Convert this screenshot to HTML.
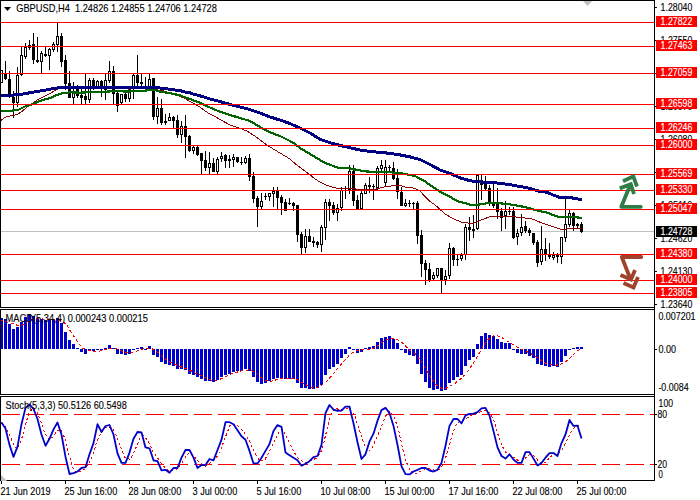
<!DOCTYPE html><html><head><meta charset="utf-8"><title>GBPUSD,H4</title>
<style>html,body{margin:0;padding:0;background:#fff;overflow:hidden}svg{display:block}text{font-family:"Liberation Sans",sans-serif;font-size:10.1px;fill:#000;stroke:#000;stroke-width:0.12px}</style></head><body>
<svg width="700" height="500" viewBox="0 0 700 500">
<rect width="700" height="500" fill="#fff"/>
<g shape-rendering="crispEdges">
<rect x="1" y="231" width="653" height="1" fill="#c0c0c0"/>
<g fill="#000">
<rect x="1" y="70" width="1" height="13"/>
<rect x="0" y="70" width="3" height="13"/>
<rect x="1" y="71" width="1" height="11" fill="#fff"/>
<rect x="5" y="61" width="1" height="19"/>
<rect x="4" y="73" width="3" height="6"/>
<rect x="9" y="71" width="1" height="27"/>
<rect x="8" y="79" width="3" height="16"/>
<rect x="13" y="91" width="1" height="27"/>
<rect x="12" y="97" width="3" height="6"/>
<rect x="17" y="67" width="1" height="40"/>
<rect x="16" y="75" width="3" height="28"/>
<rect x="17" y="76" width="1" height="26" fill="#fff"/>
<rect x="21" y="47" width="1" height="29"/>
<rect x="20" y="55" width="3" height="20"/>
<rect x="21" y="56" width="1" height="18" fill="#fff"/>
<rect x="25" y="43" width="1" height="16"/>
<rect x="24" y="47" width="3" height="10"/>
<rect x="25" y="48" width="1" height="8" fill="#fff"/>
<rect x="29" y="40" width="1" height="10"/>
<rect x="28" y="45" width="3" height="3"/>
<rect x="29" y="46" width="1" height="1" fill="#fff"/>
<rect x="33" y="33" width="1" height="31"/>
<rect x="32" y="44" width="3" height="16"/>
<rect x="37" y="37" width="1" height="26"/>
<rect x="36" y="60" width="3" height="2"/>
<rect x="41" y="51" width="1" height="22"/>
<rect x="40" y="53" width="3" height="9"/>
<rect x="41" y="54" width="1" height="7" fill="#fff"/>
<rect x="45" y="47" width="1" height="10"/>
<rect x="44" y="54" width="3" height="2"/>
<rect x="49" y="48" width="1" height="22"/>
<rect x="48" y="49" width="3" height="7"/>
<rect x="49" y="50" width="1" height="5" fill="#fff"/>
<rect x="53" y="42" width="1" height="10"/>
<rect x="52" y="44" width="3" height="6"/>
<rect x="53" y="45" width="1" height="4" fill="#fff"/>
<rect x="57" y="23" width="1" height="29"/>
<rect x="56" y="36" width="3" height="9"/>
<rect x="57" y="37" width="1" height="7" fill="#fff"/>
<rect x="61" y="33" width="1" height="34"/>
<rect x="60" y="36" width="3" height="26"/>
<rect x="65" y="55" width="1" height="35"/>
<rect x="64" y="60" width="3" height="24"/>
<rect x="69" y="71" width="1" height="27"/>
<rect x="68" y="83" width="3" height="15"/>
<rect x="73" y="82" width="1" height="22"/>
<rect x="72" y="92" width="3" height="6"/>
<rect x="73" y="93" width="1" height="4" fill="#fff"/>
<rect x="77" y="85" width="1" height="13"/>
<rect x="76" y="89" width="3" height="7"/>
<rect x="81" y="89" width="1" height="15"/>
<rect x="80" y="95" width="3" height="3"/>
<rect x="85" y="74" width="1" height="30"/>
<rect x="84" y="96" width="3" height="4"/>
<rect x="89" y="78" width="1" height="25"/>
<rect x="88" y="80" width="3" height="20"/>
<rect x="89" y="81" width="1" height="18" fill="#fff"/>
<rect x="93" y="78" width="1" height="12"/>
<rect x="92" y="80" width="3" height="9"/>
<rect x="97" y="80" width="1" height="8"/>
<rect x="96" y="81" width="3" height="7"/>
<rect x="97" y="82" width="1" height="5" fill="#fff"/>
<rect x="101" y="80" width="1" height="17"/>
<rect x="100" y="81" width="3" height="8"/>
<rect x="105" y="74" width="1" height="26"/>
<rect x="104" y="80" width="3" height="10"/>
<rect x="105" y="81" width="1" height="8" fill="#fff"/>
<rect x="109" y="61" width="1" height="22"/>
<rect x="108" y="71" width="3" height="10"/>
<rect x="109" y="72" width="1" height="8" fill="#fff"/>
<rect x="113" y="66" width="1" height="38"/>
<rect x="112" y="71" width="3" height="23"/>
<rect x="117" y="92" width="1" height="20"/>
<rect x="116" y="93" width="3" height="13"/>
<rect x="121" y="94" width="1" height="11"/>
<rect x="120" y="94" width="3" height="9"/>
<rect x="121" y="95" width="1" height="7" fill="#fff"/>
<rect x="125" y="93" width="1" height="9"/>
<rect x="124" y="94" width="3" height="5"/>
<rect x="129" y="88" width="1" height="14"/>
<rect x="128" y="89" width="3" height="10"/>
<rect x="129" y="90" width="1" height="8" fill="#fff"/>
<rect x="133" y="74" width="1" height="25"/>
<rect x="132" y="75" width="3" height="14"/>
<rect x="133" y="76" width="1" height="12" fill="#fff"/>
<rect x="137" y="55" width="1" height="31"/>
<rect x="136" y="75" width="3" height="8"/>
<rect x="141" y="74" width="1" height="12"/>
<rect x="140" y="82" width="3" height="2"/>
<rect x="145" y="77" width="1" height="10"/>
<rect x="144" y="86" width="3" height="1"/>
<rect x="149" y="74" width="1" height="14"/>
<rect x="148" y="79" width="3" height="8"/>
<rect x="149" y="80" width="1" height="6" fill="#fff"/>
<rect x="153" y="78" width="1" height="42"/>
<rect x="152" y="78" width="3" height="39"/>
<rect x="157" y="97" width="1" height="27"/>
<rect x="156" y="108" width="3" height="9"/>
<rect x="157" y="109" width="1" height="7" fill="#fff"/>
<rect x="161" y="99" width="1" height="26"/>
<rect x="160" y="108" width="3" height="15"/>
<rect x="165" y="114" width="1" height="11"/>
<rect x="164" y="121" width="3" height="2"/>
<rect x="169" y="113" width="1" height="8"/>
<rect x="168" y="117" width="3" height="4"/>
<rect x="169" y="118" width="1" height="2" fill="#fff"/>
<rect x="173" y="116" width="1" height="12"/>
<rect x="172" y="117" width="3" height="4"/>
<rect x="177" y="115" width="1" height="23"/>
<rect x="176" y="120" width="3" height="15"/>
<rect x="181" y="121" width="1" height="22"/>
<rect x="180" y="126" width="3" height="9"/>
<rect x="181" y="127" width="1" height="7" fill="#fff"/>
<rect x="185" y="115" width="1" height="43"/>
<rect x="184" y="126" width="3" height="11"/>
<rect x="189" y="135" width="1" height="17"/>
<rect x="188" y="136" width="3" height="15"/>
<rect x="193" y="146" width="1" height="8"/>
<rect x="192" y="147" width="3" height="4"/>
<rect x="193" y="148" width="1" height="2" fill="#fff"/>
<rect x="197" y="146" width="1" height="10"/>
<rect x="196" y="147" width="3" height="8"/>
<rect x="201" y="153" width="1" height="22"/>
<rect x="200" y="153" width="3" height="8"/>
<rect x="205" y="151" width="1" height="20"/>
<rect x="204" y="160" width="3" height="8"/>
<rect x="209" y="152" width="1" height="22"/>
<rect x="208" y="163" width="3" height="5"/>
<rect x="209" y="164" width="1" height="3" fill="#fff"/>
<rect x="213" y="158" width="1" height="14"/>
<rect x="212" y="163" width="3" height="9"/>
<rect x="217" y="157" width="1" height="17"/>
<rect x="216" y="159" width="3" height="13"/>
<rect x="217" y="160" width="1" height="11" fill="#fff"/>
<rect x="221" y="152" width="1" height="10"/>
<rect x="220" y="156" width="3" height="3"/>
<rect x="221" y="157" width="1" height="1" fill="#fff"/>
<rect x="225" y="154" width="1" height="14"/>
<rect x="224" y="155" width="3" height="6"/>
<rect x="229" y="155" width="1" height="13"/>
<rect x="228" y="159" width="3" height="2"/>
<rect x="233" y="154" width="1" height="13"/>
<rect x="232" y="157" width="3" height="3"/>
<rect x="233" y="158" width="1" height="1" fill="#fff"/>
<rect x="237" y="157" width="1" height="6"/>
<rect x="236" y="157" width="3" height="5"/>
<rect x="241" y="157" width="1" height="8"/>
<rect x="240" y="162" width="3" height="1"/>
<rect x="245" y="156" width="1" height="8"/>
<rect x="244" y="158" width="3" height="5"/>
<rect x="245" y="159" width="1" height="3" fill="#fff"/>
<rect x="249" y="154" width="1" height="27"/>
<rect x="248" y="158" width="3" height="19"/>
<rect x="253" y="172" width="1" height="31"/>
<rect x="252" y="176" width="3" height="23"/>
<rect x="257" y="196" width="1" height="31"/>
<rect x="256" y="198" width="3" height="9"/>
<rect x="261" y="193" width="1" height="16"/>
<rect x="260" y="201" width="3" height="6"/>
<rect x="261" y="202" width="1" height="4" fill="#fff"/>
<rect x="265" y="193" width="1" height="7"/>
<rect x="264" y="196" width="3" height="1"/>
<rect x="269" y="193" width="1" height="8"/>
<rect x="268" y="193" width="3" height="4"/>
<rect x="269" y="194" width="1" height="2" fill="#fff"/>
<rect x="273" y="187" width="1" height="20"/>
<rect x="272" y="191" width="3" height="3"/>
<rect x="273" y="192" width="1" height="1" fill="#fff"/>
<rect x="277" y="187" width="1" height="22"/>
<rect x="276" y="190" width="3" height="8"/>
<rect x="281" y="195" width="1" height="20"/>
<rect x="280" y="197" width="3" height="6"/>
<rect x="285" y="199" width="1" height="12"/>
<rect x="284" y="202" width="3" height="9"/>
<rect x="289" y="198" width="1" height="7"/>
<rect x="288" y="203" width="3" height="1"/>
<rect x="293" y="202" width="1" height="9"/>
<rect x="292" y="203" width="3" height="3"/>
<rect x="297" y="205" width="1" height="37"/>
<rect x="296" y="205" width="3" height="30"/>
<rect x="301" y="232" width="1" height="22"/>
<rect x="300" y="234" width="3" height="14"/>
<rect x="305" y="229" width="1" height="24"/>
<rect x="304" y="236" width="3" height="12"/>
<rect x="305" y="237" width="1" height="10" fill="#fff"/>
<rect x="309" y="229" width="1" height="13"/>
<rect x="308" y="236" width="3" height="6"/>
<rect x="313" y="237" width="1" height="10"/>
<rect x="312" y="241" width="3" height="2"/>
<rect x="317" y="241" width="1" height="7"/>
<rect x="316" y="242" width="3" height="3"/>
<rect x="321" y="225" width="1" height="27"/>
<rect x="320" y="227" width="3" height="18"/>
<rect x="321" y="228" width="1" height="16" fill="#fff"/>
<rect x="325" y="199" width="1" height="41"/>
<rect x="324" y="202" width="3" height="26"/>
<rect x="325" y="203" width="1" height="24" fill="#fff"/>
<rect x="329" y="199" width="1" height="22"/>
<rect x="328" y="202" width="3" height="4"/>
<rect x="333" y="202" width="1" height="13"/>
<rect x="332" y="205" width="3" height="8"/>
<rect x="337" y="204" width="1" height="17"/>
<rect x="336" y="208" width="3" height="5"/>
<rect x="337" y="209" width="1" height="3" fill="#fff"/>
<rect x="341" y="187" width="1" height="24"/>
<rect x="340" y="190" width="3" height="18"/>
<rect x="341" y="191" width="1" height="16" fill="#fff"/>
<rect x="345" y="186" width="1" height="13"/>
<rect x="344" y="190" width="3" height="1"/>
<rect x="349" y="165" width="1" height="29"/>
<rect x="348" y="171" width="3" height="19"/>
<rect x="349" y="172" width="1" height="17" fill="#fff"/>
<rect x="353" y="165" width="1" height="41"/>
<rect x="352" y="171" width="3" height="30"/>
<rect x="357" y="195" width="1" height="14"/>
<rect x="356" y="200" width="3" height="9"/>
<rect x="361" y="191" width="1" height="18"/>
<rect x="360" y="193" width="3" height="16"/>
<rect x="361" y="194" width="1" height="14" fill="#fff"/>
<rect x="365" y="183" width="1" height="11"/>
<rect x="364" y="185" width="3" height="9"/>
<rect x="365" y="186" width="1" height="7" fill="#fff"/>
<rect x="369" y="177" width="1" height="16"/>
<rect x="368" y="185" width="3" height="2"/>
<rect x="373" y="184" width="1" height="16"/>
<rect x="372" y="186" width="3" height="1"/>
<rect x="377" y="166" width="1" height="24"/>
<rect x="376" y="168" width="3" height="20"/>
<rect x="377" y="169" width="1" height="18" fill="#fff"/>
<rect x="381" y="160" width="1" height="11"/>
<rect x="380" y="165" width="3" height="4"/>
<rect x="381" y="166" width="1" height="2" fill="#fff"/>
<rect x="385" y="160" width="1" height="27"/>
<rect x="384" y="167" width="3" height="16"/>
<rect x="385" y="168" width="1" height="14" fill="#fff"/>
<rect x="389" y="165" width="1" height="8"/>
<rect x="388" y="167" width="3" height="1"/>
<rect x="393" y="162" width="1" height="18"/>
<rect x="392" y="168" width="3" height="11"/>
<rect x="397" y="169" width="1" height="30"/>
<rect x="396" y="178" width="3" height="14"/>
<rect x="401" y="187" width="1" height="19"/>
<rect x="400" y="192" width="3" height="14"/>
<rect x="405" y="199" width="1" height="8"/>
<rect x="404" y="203" width="3" height="3"/>
<rect x="405" y="204" width="1" height="1" fill="#fff"/>
<rect x="409" y="200" width="1" height="7"/>
<rect x="408" y="203" width="3" height="1"/>
<rect x="413" y="202" width="1" height="7"/>
<rect x="412" y="203" width="3" height="1"/>
<rect x="417" y="201" width="1" height="43"/>
<rect x="416" y="203" width="3" height="33"/>
<rect x="421" y="230" width="1" height="47"/>
<rect x="420" y="235" width="3" height="29"/>
<rect x="425" y="260" width="1" height="25"/>
<rect x="424" y="263" width="3" height="7"/>
<rect x="429" y="263" width="1" height="19"/>
<rect x="428" y="269" width="3" height="11"/>
<rect x="433" y="272" width="1" height="8"/>
<rect x="432" y="275" width="3" height="4"/>
<rect x="433" y="276" width="1" height="2" fill="#fff"/>
<rect x="437" y="268" width="1" height="10"/>
<rect x="436" y="268" width="3" height="8"/>
<rect x="437" y="269" width="1" height="6" fill="#fff"/>
<rect x="441" y="268" width="1" height="25"/>
<rect x="440" y="268" width="3" height="12"/>
<rect x="445" y="270" width="1" height="15"/>
<rect x="444" y="276" width="3" height="4"/>
<rect x="445" y="277" width="1" height="2" fill="#fff"/>
<rect x="449" y="243" width="1" height="36"/>
<rect x="448" y="248" width="3" height="28"/>
<rect x="449" y="249" width="1" height="26" fill="#fff"/>
<rect x="453" y="247" width="1" height="19"/>
<rect x="452" y="248" width="3" height="12"/>
<rect x="457" y="255" width="1" height="11"/>
<rect x="456" y="259" width="3" height="1"/>
<rect x="461" y="253" width="1" height="8"/>
<rect x="460" y="255" width="3" height="4"/>
<rect x="461" y="256" width="1" height="2" fill="#fff"/>
<rect x="465" y="224" width="1" height="36"/>
<rect x="464" y="227" width="3" height="28"/>
<rect x="465" y="228" width="1" height="26" fill="#fff"/>
<rect x="469" y="217" width="1" height="24"/>
<rect x="468" y="227" width="3" height="3"/>
<rect x="473" y="215" width="1" height="23"/>
<rect x="472" y="229" width="3" height="2"/>
<rect x="477" y="175" width="1" height="55"/>
<rect x="476" y="175" width="3" height="54"/>
<rect x="477" y="176" width="1" height="52" fill="#fff"/>
<rect x="481" y="175" width="1" height="25"/>
<rect x="480" y="180" width="3" height="5"/>
<rect x="485" y="176" width="1" height="14"/>
<rect x="484" y="182" width="3" height="7"/>
<rect x="489" y="185" width="1" height="21"/>
<rect x="488" y="188" width="3" height="16"/>
<rect x="493" y="184" width="1" height="24"/>
<rect x="492" y="204" width="3" height="2"/>
<rect x="497" y="188" width="1" height="31"/>
<rect x="496" y="204" width="3" height="8"/>
<rect x="501" y="208" width="1" height="23"/>
<rect x="500" y="211" width="3" height="7"/>
<rect x="505" y="201" width="1" height="28"/>
<rect x="504" y="211" width="3" height="5"/>
<rect x="505" y="212" width="1" height="3" fill="#fff"/>
<rect x="509" y="207" width="1" height="8"/>
<rect x="508" y="211" width="3" height="1"/>
<rect x="513" y="207" width="1" height="32"/>
<rect x="512" y="211" width="3" height="27"/>
<rect x="517" y="229" width="1" height="16"/>
<rect x="516" y="233" width="3" height="4"/>
<rect x="517" y="234" width="1" height="2" fill="#fff"/>
<rect x="521" y="214" width="1" height="22"/>
<rect x="520" y="227" width="3" height="6"/>
<rect x="521" y="228" width="1" height="4" fill="#fff"/>
<rect x="525" y="221" width="1" height="12"/>
<rect x="524" y="226" width="3" height="5"/>
<rect x="529" y="228" width="1" height="8"/>
<rect x="528" y="230" width="3" height="3"/>
<rect x="533" y="233" width="1" height="12"/>
<rect x="532" y="233" width="3" height="10"/>
<rect x="537" y="240" width="1" height="27"/>
<rect x="536" y="242" width="3" height="21"/>
<rect x="541" y="226" width="1" height="39"/>
<rect x="540" y="249" width="3" height="13"/>
<rect x="541" y="250" width="1" height="11" fill="#fff"/>
<rect x="545" y="238" width="1" height="23"/>
<rect x="544" y="249" width="3" height="6"/>
<rect x="549" y="243" width="1" height="16"/>
<rect x="548" y="255" width="3" height="2"/>
<rect x="553" y="252" width="1" height="8"/>
<rect x="552" y="255" width="3" height="3"/>
<rect x="553" y="256" width="1" height="1" fill="#fff"/>
<rect x="557" y="253" width="1" height="10"/>
<rect x="556" y="255" width="3" height="2"/>
<rect x="561" y="237" width="1" height="27"/>
<rect x="560" y="237" width="3" height="20"/>
<rect x="561" y="238" width="1" height="18" fill="#fff"/>
<rect x="565" y="199" width="1" height="43"/>
<rect x="564" y="224" width="3" height="14"/>
<rect x="565" y="225" width="1" height="12" fill="#fff"/>
<rect x="569" y="210" width="1" height="17"/>
<rect x="568" y="213" width="3" height="12"/>
<rect x="569" y="214" width="1" height="10" fill="#fff"/>
<rect x="573" y="212" width="1" height="19"/>
<rect x="572" y="213" width="3" height="13"/>
<rect x="577" y="223" width="1" height="5"/>
<rect x="576" y="224" width="3" height="2"/>
<rect x="581" y="222" width="1" height="11"/>
<rect x="580" y="224" width="3" height="8"/>
</g>
<polyline points="1.0,120.5 5.0,117.5 8.0,116.3 13.0,115.5 17.0,114.5 22.0,111.5 27.0,107.0 32.0,103.5 38.0,99.5 45.0,96.0 50.0,93.5 56.0,90.0 60.0,88.3 70.0,88.0 125.0,88.2 129.5,89.3 134.0,88.5 150.0,88.5 161.6,90.6 165.6,91.4 170.0,93.0 175.0,94.5 181.0,96.9 185.0,98.6 189.0,100.9 195.0,104.3 200.0,107.1 205.0,110.8 210.0,114.2 215.0,116.5 220.0,119.5 230.0,125.0 240.0,128.4 247.0,131.0 255.0,136.2 260.0,140.0 265.0,143.6 270.0,147.0 280.0,153.0 290.0,159.0 295.0,163.6 300.0,167.5 310.0,174.7 315.0,179.0 320.0,182.0 325.0,184.5 330.0,186.3 337.0,188.4 345.0,188.8 355.0,188.8 357.0,189.6 365.0,189.6 375.0,189.6 378.0,188.4 385.0,186.7 390.0,186.1 395.0,185.3 400.0,185.5 405.0,187.1 412.0,187.7 417.0,189.4 420.0,191.1 425.0,196.5 430.0,201.4 435.0,204.9 440.0,209.4 445.0,214.0 450.0,216.9 455.0,219.4 462.0,222.4 467.0,222.8 472.0,223.6 477.0,222.0 481.0,220.0 485.0,218.6 490.0,216.7 500.0,216.2 510.0,216.7 515.0,216.8 520.0,217.5 530.0,218.5 535.0,220.1 540.0,222.2 545.0,223.9 550.0,225.6 555.0,227.4 560.0,229.1 565.0,229.2 570.0,228.5 575.0,228.3 582.0,228.2" fill="none" stroke="#8b0000" stroke-width="1" />
<polyline points="0.0,111.5 10.0,110.8 18.0,110.0 25.0,106.5 32.0,104.5 40.0,101.0 50.0,98.0 60.0,93.7 70.0,92.3 80.0,92.7 90.0,92.2 100.0,92.0 110.0,91.4 120.0,91.0 125.0,91.6 135.0,91.2 145.0,90.7 150.0,89.9 155.0,90.2 160.0,91.7 170.0,93.2 180.0,95.4 190.0,99.1 200.0,102.8 210.0,107.5 220.0,111.8 230.0,115.0 240.0,118.0 250.0,121.0 260.0,127.0 270.0,132.4 280.0,136.0 290.0,141.0 295.0,144.0 300.0,148.0 310.0,154.0 320.0,160.0 325.0,163.0 330.0,164.7 337.0,167.5 340.0,167.9 348.0,167.9 355.0,169.5 365.0,171.3 375.0,172.1 390.0,172.1 395.0,173.0 400.0,173.2 405.0,174.0 410.0,175.0 415.0,176.0 418.0,177.5 420.0,179.0 425.0,181.4 430.0,184.9 435.0,188.3 440.0,191.7 445.0,194.3 450.0,196.9 455.0,199.7 460.0,202.0 465.0,203.1 470.0,204.6 477.0,204.8 485.0,203.6 490.0,202.7 500.0,203.3 510.0,204.4 520.0,206.1 530.0,208.2 535.0,210.0 540.0,211.1 548.0,212.9 553.0,215.1 558.0,216.8 565.0,217.0 570.0,217.0 575.0,217.2 582.0,218.0" fill="none" stroke="#006400" stroke-width="2.2" />
<polyline points="0.0,96.0 20.0,94.5 40.0,91.0 60.0,87.5 70.0,87.4 85.0,87.5 140.0,87.4 155.0,87.4 165.0,88.6 175.0,90.0 180.0,90.6 185.0,92.0 190.0,92.9 195.0,94.6 200.0,95.8 210.0,99.0 220.0,101.6 230.0,104.4 240.0,107.0 250.0,109.6 260.0,113.0 270.0,117.0 280.0,120.0 290.0,123.6 300.0,128.0 310.0,133.0 320.0,139.2 330.0,142.8 340.0,145.4 350.0,147.7 360.0,150.0 370.0,151.5 380.0,152.3 390.0,153.4 400.0,154.9 410.0,156.9 420.0,159.5 430.0,164.5 440.0,170.0 450.0,173.4 460.0,177.8 470.0,180.8 480.0,181.9 490.0,182.4 500.0,183.3 510.0,184.7 520.0,186.5 530.0,188.4 540.0,191.5 547.0,192.2 553.0,195.0 560.0,197.5 570.0,197.5 575.0,198.5 582.0,199.8" fill="none" stroke="#000080" stroke-width="3" />
<rect x="1" y="22" width="653" height="1" fill="#ff0000"/>
<rect x="1" y="46" width="653" height="1" fill="#ff0000"/>
<rect x="1" y="73" width="653" height="1" fill="#ff0000"/>
<rect x="1" y="104" width="653" height="1" fill="#ff0000"/>
<rect x="1" y="128" width="653" height="1" fill="#ff0000"/>
<rect x="1" y="145" width="653" height="1" fill="#ff0000"/>
<rect x="1" y="174" width="653" height="1" fill="#ff0000"/>
<rect x="1" y="190" width="653" height="1" fill="#ff0000"/>
<rect x="1" y="209" width="653" height="1" fill="#ff0000"/>
<rect x="1" y="254" width="653" height="1" fill="#ff0000"/>
<rect x="1" y="280" width="653" height="1" fill="#ff0000"/>
<rect x="1" y="293" width="653" height="1" fill="#ff0000"/>
<g fill="#0000cd">
<rect x="0" y="318" width="3" height="31"/>
<rect x="4" y="319" width="3" height="30"/>
<rect x="8" y="324" width="3" height="25"/>
<rect x="12" y="329" width="3" height="20"/>
<rect x="16" y="327" width="3" height="22"/>
<rect x="20" y="322" width="3" height="27"/>
<rect x="24" y="317" width="3" height="32"/>
<rect x="28" y="314" width="3" height="35"/>
<rect x="32" y="316" width="3" height="33"/>
<rect x="36" y="318" width="3" height="31"/>
<rect x="40" y="319" width="3" height="30"/>
<rect x="44" y="320" width="3" height="29"/>
<rect x="48" y="320" width="3" height="29"/>
<rect x="52" y="320" width="3" height="29"/>
<rect x="56" y="318" width="3" height="31"/>
<rect x="60" y="323" width="3" height="26"/>
<rect x="64" y="332" width="3" height="17"/>
<rect x="68" y="340" width="3" height="9"/>
<rect x="72" y="344" width="3" height="5"/>
<rect x="76" y="348" width="3" height="1"/>
<rect x="80" y="349" width="3" height="3"/>
<rect x="84" y="349" width="3" height="5"/>
<rect x="88" y="349" width="3" height="2"/>
<rect x="92" y="349" width="3" height="2"/>
<rect x="96" y="349" width="3" height="1"/>
<rect x="100" y="349" width="3" height="1"/>
<rect x="104" y="348" width="3" height="1"/>
<rect x="108" y="345" width="3" height="4"/>
<rect x="112" y="348" width="3" height="1"/>
<rect x="116" y="349" width="3" height="5"/>
<rect x="120" y="349" width="3" height="5"/>
<rect x="124" y="349" width="3" height="6"/>
<rect x="128" y="349" width="3" height="5"/>
<rect x="132" y="349" width="3" height="1"/>
<rect x="136" y="348" width="3" height="1"/>
<rect x="140" y="347" width="3" height="2"/>
<rect x="144" y="349" width="3" height="1"/>
<rect x="148" y="346" width="3" height="3"/>
<rect x="152" y="349" width="3" height="6"/>
<rect x="156" y="349" width="3" height="8"/>
<rect x="160" y="349" width="3" height="13"/>
<rect x="164" y="349" width="3" height="15"/>
<rect x="168" y="349" width="3" height="16"/>
<rect x="172" y="349" width="3" height="17"/>
<rect x="176" y="349" width="3" height="20"/>
<rect x="180" y="349" width="3" height="20"/>
<rect x="184" y="349" width="3" height="21"/>
<rect x="188" y="349" width="3" height="25"/>
<rect x="192" y="349" width="3" height="26"/>
<rect x="196" y="349" width="3" height="28"/>
<rect x="200" y="349" width="3" height="30"/>
<rect x="204" y="349" width="3" height="32"/>
<rect x="208" y="349" width="3" height="32"/>
<rect x="212" y="349" width="3" height="33"/>
<rect x="216" y="349" width="3" height="31"/>
<rect x="220" y="349" width="3" height="28"/>
<rect x="224" y="349" width="3" height="26"/>
<rect x="228" y="349" width="3" height="25"/>
<rect x="232" y="349" width="3" height="23"/>
<rect x="236" y="349" width="3" height="22"/>
<rect x="240" y="349" width="3" height="22"/>
<rect x="244" y="349" width="3" height="20"/>
<rect x="248" y="349" width="3" height="22"/>
<rect x="252" y="349" width="3" height="28"/>
<rect x="256" y="349" width="3" height="33"/>
<rect x="260" y="349" width="3" height="35"/>
<rect x="264" y="349" width="3" height="34"/>
<rect x="268" y="349" width="3" height="32"/>
<rect x="272" y="349" width="3" height="30"/>
<rect x="276" y="349" width="3" height="29"/>
<rect x="280" y="349" width="3" height="29"/>
<rect x="284" y="349" width="3" height="30"/>
<rect x="288" y="349" width="3" height="30"/>
<rect x="292" y="349" width="3" height="30"/>
<rect x="296" y="349" width="3" height="34"/>
<rect x="300" y="349" width="3" height="39"/>
<rect x="304" y="349" width="3" height="39"/>
<rect x="308" y="349" width="3" height="40"/>
<rect x="312" y="349" width="3" height="40"/>
<rect x="316" y="349" width="3" height="39"/>
<rect x="320" y="349" width="3" height="36"/>
<rect x="324" y="349" width="3" height="26"/>
<rect x="328" y="349" width="3" height="20"/>
<rect x="332" y="349" width="3" height="18"/>
<rect x="336" y="349" width="3" height="15"/>
<rect x="340" y="349" width="3" height="9"/>
<rect x="344" y="349" width="3" height="5"/>
<rect x="348" y="347" width="3" height="2"/>
<rect x="352" y="349" width="3" height="1"/>
<rect x="356" y="349" width="3" height="4"/>
<rect x="360" y="349" width="3" height="3"/>
<rect x="364" y="348" width="3" height="1"/>
<rect x="368" y="347" width="3" height="2"/>
<rect x="372" y="346" width="3" height="3"/>
<rect x="376" y="342" width="3" height="7"/>
<rect x="380" y="338" width="3" height="11"/>
<rect x="384" y="337" width="3" height="12"/>
<rect x="388" y="336" width="3" height="13"/>
<rect x="392" y="339" width="3" height="10"/>
<rect x="396" y="343" width="3" height="6"/>
<rect x="400" y="349" width="3" height="1"/>
<rect x="404" y="349" width="3" height="4"/>
<rect x="408" y="349" width="3" height="6"/>
<rect x="412" y="349" width="3" height="7"/>
<rect x="416" y="349" width="3" height="15"/>
<rect x="420" y="349" width="3" height="25"/>
<rect x="424" y="349" width="3" height="33"/>
<rect x="428" y="349" width="3" height="39"/>
<rect x="432" y="349" width="3" height="41"/>
<rect x="436" y="349" width="3" height="40"/>
<rect x="440" y="349" width="3" height="42"/>
<rect x="444" y="349" width="3" height="41"/>
<rect x="448" y="349" width="3" height="34"/>
<rect x="452" y="349" width="3" height="31"/>
<rect x="456" y="349" width="3" height="28"/>
<rect x="460" y="349" width="3" height="26"/>
<rect x="464" y="349" width="3" height="17"/>
<rect x="468" y="349" width="3" height="11"/>
<rect x="472" y="349" width="3" height="8"/>
<rect x="476" y="344" width="3" height="5"/>
<rect x="480" y="336" width="3" height="13"/>
<rect x="484" y="333" width="3" height="16"/>
<rect x="488" y="335" width="3" height="14"/>
<rect x="492" y="336" width="3" height="13"/>
<rect x="496" y="339" width="3" height="10"/>
<rect x="500" y="342" width="3" height="7"/>
<rect x="504" y="343" width="3" height="6"/>
<rect x="508" y="343" width="3" height="6"/>
<rect x="512" y="349" width="3" height="1"/>
<rect x="516" y="349" width="3" height="4"/>
<rect x="520" y="349" width="3" height="5"/>
<rect x="524" y="349" width="3" height="5"/>
<rect x="528" y="349" width="3" height="7"/>
<rect x="532" y="349" width="3" height="9"/>
<rect x="536" y="349" width="3" height="15"/>
<rect x="540" y="349" width="3" height="16"/>
<rect x="544" y="349" width="3" height="17"/>
<rect x="548" y="349" width="3" height="18"/>
<rect x="552" y="349" width="3" height="17"/>
<rect x="556" y="349" width="3" height="18"/>
<rect x="560" y="349" width="3" height="13"/>
<rect x="564" y="349" width="3" height="7"/>
<rect x="568" y="349" width="3" height="1"/>
<rect x="572" y="348" width="3" height="1"/>
<rect x="576" y="347" width="3" height="2"/>
<rect x="580" y="347" width="3" height="2"/>
</g>
<rect x="2" y="414" width="18" height="1" fill="#ff0000"/>
<rect x="26" y="414" width="18" height="1" fill="#ff0000"/>
<rect x="50" y="414" width="18" height="1" fill="#ff0000"/>
<rect x="74" y="414" width="18" height="1" fill="#ff0000"/>
<rect x="98" y="414" width="18" height="1" fill="#ff0000"/>
<rect x="122" y="414" width="18" height="1" fill="#ff0000"/>
<rect x="146" y="414" width="18" height="1" fill="#ff0000"/>
<rect x="170" y="414" width="18" height="1" fill="#ff0000"/>
<rect x="194" y="414" width="18" height="1" fill="#ff0000"/>
<rect x="218" y="414" width="18" height="1" fill="#ff0000"/>
<rect x="242" y="414" width="18" height="1" fill="#ff0000"/>
<rect x="266" y="414" width="18" height="1" fill="#ff0000"/>
<rect x="290" y="414" width="18" height="1" fill="#ff0000"/>
<rect x="314" y="414" width="18" height="1" fill="#ff0000"/>
<rect x="338" y="414" width="18" height="1" fill="#ff0000"/>
<rect x="362" y="414" width="18" height="1" fill="#ff0000"/>
<rect x="386" y="414" width="18" height="1" fill="#ff0000"/>
<rect x="410" y="414" width="18" height="1" fill="#ff0000"/>
<rect x="434" y="414" width="18" height="1" fill="#ff0000"/>
<rect x="458" y="414" width="18" height="1" fill="#ff0000"/>
<rect x="482" y="414" width="18" height="1" fill="#ff0000"/>
<rect x="506" y="414" width="18" height="1" fill="#ff0000"/>
<rect x="530" y="414" width="18" height="1" fill="#ff0000"/>
<rect x="554" y="414" width="18" height="1" fill="#ff0000"/>
<rect x="578" y="414" width="18" height="1" fill="#ff0000"/>
<rect x="602" y="414" width="18" height="1" fill="#ff0000"/>
<rect x="626" y="414" width="18" height="1" fill="#ff0000"/>
<rect x="650" y="414" width="4" height="1" fill="#ff0000"/>
<rect x="2" y="464" width="18" height="1" fill="#ff0000"/>
<rect x="26" y="464" width="18" height="1" fill="#ff0000"/>
<rect x="50" y="464" width="18" height="1" fill="#ff0000"/>
<rect x="74" y="464" width="18" height="1" fill="#ff0000"/>
<rect x="98" y="464" width="18" height="1" fill="#ff0000"/>
<rect x="122" y="464" width="18" height="1" fill="#ff0000"/>
<rect x="146" y="464" width="18" height="1" fill="#ff0000"/>
<rect x="170" y="464" width="18" height="1" fill="#ff0000"/>
<rect x="194" y="464" width="18" height="1" fill="#ff0000"/>
<rect x="218" y="464" width="18" height="1" fill="#ff0000"/>
<rect x="242" y="464" width="18" height="1" fill="#ff0000"/>
<rect x="266" y="464" width="18" height="1" fill="#ff0000"/>
<rect x="290" y="464" width="18" height="1" fill="#ff0000"/>
<rect x="314" y="464" width="18" height="1" fill="#ff0000"/>
<rect x="338" y="464" width="18" height="1" fill="#ff0000"/>
<rect x="362" y="464" width="18" height="1" fill="#ff0000"/>
<rect x="386" y="464" width="18" height="1" fill="#ff0000"/>
<rect x="410" y="464" width="18" height="1" fill="#ff0000"/>
<rect x="434" y="464" width="18" height="1" fill="#ff0000"/>
<rect x="458" y="464" width="18" height="1" fill="#ff0000"/>
<rect x="482" y="464" width="18" height="1" fill="#ff0000"/>
<rect x="506" y="464" width="18" height="1" fill="#ff0000"/>
<rect x="530" y="464" width="18" height="1" fill="#ff0000"/>
<rect x="554" y="464" width="18" height="1" fill="#ff0000"/>
<rect x="578" y="464" width="18" height="1" fill="#ff0000"/>
<rect x="602" y="464" width="18" height="1" fill="#ff0000"/>
<rect x="626" y="464" width="18" height="1" fill="#ff0000"/>
<rect x="650" y="464" width="4" height="1" fill="#ff0000"/>
</g>
<polyline points="0.0,320.4 10.0,322.6 17.0,325.2 22.0,325.2 27.0,321.8 35.0,318.3 45.0,319.2 55.0,320.0 62.0,320.9 67.0,325.2 72.0,333.8 77.0,340.7 80.0,345.0 83.0,348.4 88.0,350.1 95.0,351.3 100.0,351.0 105.0,349.3 110.0,348.4 115.0,348.4 120.0,350.1 125.0,352.4 130.0,353.0 135.0,351.8 140.0,350.1 145.0,348.4 150.0,347.9 155.0,350.1 160.0,354.4 165.0,358.7 170.0,362.2 175.0,364.4 180.0,366.5 185.0,368.2 190.0,370.2 195.0,373.0 200.0,375.0 205.0,377.6 210.0,379.9 215.0,380.5 220.0,379.3 225.0,376.8 230.0,374.5 235.0,372.7 240.0,371.3 245.0,370.2 250.0,369.9 255.0,372.5 260.0,376.8 265.0,380.2 270.0,381.6 275.0,380.2 280.0,378.1 285.0,378.5 290.0,378.1 295.0,378.5 300.0,381.1 305.0,384.0 310.0,387.1 315.0,388.5 320.0,386.2 325.0,382.8 330.0,377.6 335.0,371.6 340.0,365.6 345.0,360.0 350.0,354.6 355.0,351.0 360.0,350.1 365.0,349.6 370.0,349.3 375.0,347.5 380.0,344.4 385.0,340.3 390.0,338.6 395.0,338.6 400.0,340.7 405.0,345.5 410.0,350.6 415.0,353.6 420.0,359.6 425.0,367.3 430.0,375.9 435.0,383.6 440.0,387.9 445.0,388.8 450.0,386.2 455.0,383.3 460.0,379.3 465.0,374.8 470.0,368.2 475.0,360.4 480.0,351.8 485.0,343.2 490.0,337.2 495.0,335.2 500.0,336.4 505.0,339.8 510.0,342.4 515.0,346.2 520.0,348.4 525.0,351.0 530.0,353.0 535.0,356.1 540.0,359.6 545.0,363.0 550.0,364.7 555.0,365.6 560.0,364.4 565.0,362.2 570.0,357.9 575.0,353.0 581.0,348.4" fill="none" stroke="#ff0000" stroke-width="1" stroke-dasharray="3 2.5" shape-rendering="crispEdges"/>
<polyline points="1.0,422.5 5.0,426.0 9.0,433.7 13.0,443.1 17.0,449.2 21.0,441.4 25.0,426.0 29.0,413.0 33.0,407.9 37.0,412.2 41.0,421.6 45.0,433.7 49.0,439.7 53.0,437.1 57.0,431.1 61.0,429.4 65.0,438.8 69.0,455.2 73.0,468.0 77.0,473.2 81.0,470.6 85.0,468.9 89.0,462.9 93.0,455.2 97.0,440.6 101.0,432.8 105.0,427.7 109.0,427.7 113.0,428.5 117.0,437.1 120.0,445.8 125.0,457.7 130.0,459.5 135.0,450.0 140.0,438.0 143.0,435.4 148.0,440.6 153.0,451.7 158.0,458.6 163.0,465.5 168.0,470.6 172.0,470.6 177.0,468.9 182.0,462.9 187.0,454.3 191.0,452.6 195.0,457.7 200.0,462.9 205.0,466.3 210.0,462.9 215.0,459.5 220.0,451.7 225.0,438.0 230.0,425.5 235.0,424.0 240.0,427.7 245.0,433.7 250.0,442.3 255.0,453.4 260.0,461.2 265.0,459.5 270.0,450.0 275.0,439.7 280.0,430.2 283.0,429.4 287.0,438.0 292.0,448.3 297.0,456.9 302.0,461.2 307.0,462.4 312.0,460.3 317.0,457.7 322.0,450.0 327.0,429.4 331.0,413.9 335.0,408.4 340.0,409.6 345.0,408.5 350.0,408.0 355.0,416.5 360.0,432.0 365.0,447.4 368.0,451.7 372.0,448.3 377.0,437.1 382.0,425.1 386.0,415.6 390.0,411.3 394.0,417.3 398.0,427.7 402.0,445.7 406.0,461.2 410.0,470.6 415.0,474.1 420.0,471.5 425.0,468.9 430.0,468.9 435.0,470.3 440.0,468.9 444.0,462.9 448.0,450.0 452.0,435.4 456.0,425.1 460.0,420.8 463.0,420.8 467.0,418.2 472.0,414.8 477.0,413.0 482.0,411.3 486.0,410.5 490.0,413.0 494.0,420.8 498.0,434.5 502.0,445.7 506.0,452.6 510.0,456.0 514.0,457.7 518.0,460.3 522.0,461.2 526.0,457.7 530.0,454.3 534.0,456.0 538.0,460.3 542.0,463.8 546.0,462.0 550.0,456.9 554.0,454.3 558.0,454.3 562.0,450.0 566.0,442.3 570.0,433.7 574.0,427.7 578.0,425.1 581.0,426.5" fill="none" stroke="#ff0000" stroke-width="1" stroke-dasharray="2.4 2.4" shape-rendering="crispEdges"/>
<polyline points="1.5,422.5 5.5,428.5 9.5,444.9 13.5,456.9 17.5,446.6 21.5,424.2 25.5,407.9 29.5,404.5 33.5,408.8 37.5,419.0 41.5,434.5 45.5,445.7 49.5,438.8 53.5,429.4 57.5,422.5 61.5,434.5 65.5,456.9 69.5,474.0 73.5,473.2 77.5,471.5 81.5,468.0 85.5,467.2 89.5,454.3 93.5,443.1 97.5,424.2 101.5,432.0 105.5,426.0 109.5,425.0 113.5,434.5 117.5,453.4 121.5,462.9 125.5,462.9 129.5,452.6 133.5,438.8 137.5,432.0 141.5,432.5 145.5,447.4 149.5,448.3 153.5,460.3 157.5,461.2 161.5,470.3 165.5,469.8 169.5,472.7 173.5,468.0 177.5,468.0 181.5,457.7 185.5,450.0 189.5,450.0 193.5,457.7 197.5,468.0 201.5,465.1 205.5,465.1 209.5,459.0 213.5,460.3 217.5,450.0 221.5,439.7 225.5,422.2 229.5,422.2 233.5,424.2 237.5,430.2 241.5,436.3 245.5,439.7 249.5,450.9 253.5,463.4 257.5,463.4 261.5,457.7 265.5,450.9 269.5,444.0 273.5,431.1 277.5,425.1 281.5,426.8 285.5,452.6 289.5,455.2 293.5,457.7 297.5,460.3 301.5,465.8 305.5,463.8 309.5,461.2 313.5,457.2 317.5,456.0 321.5,444.9 325.5,413.0 329.5,405.0 333.5,409.6 337.5,410.8 341.5,410.5 345.5,406.7 349.5,406.7 353.5,423.4 357.5,442.3 361.5,459.0 365.5,454.3 369.5,441.4 373.5,433.7 377.5,420.8 381.5,410.1 385.5,407.9 389.5,413.0 393.5,425.9 397.5,444.9 401.5,466.3 405.5,474.1 409.5,474.4 413.5,471.5 417.5,469.8 421.5,468.0 425.5,468.0 429.5,470.6 433.5,471.5 437.5,469.8 441.5,462.9 445.5,445.7 449.5,425.9 453.5,419.0 457.5,419.0 461.5,423.4 465.5,415.3 469.5,413.9 473.5,413.6 477.5,412.2 481.5,408.4 485.5,407.9 489.5,415.6 493.5,431.1 497.5,447.4 501.5,456.0 505.5,458.6 509.5,454.3 513.5,459.5 517.5,462.9 521.5,462.9 525.5,452.1 529.5,452.1 533.5,458.6 537.5,465.5 541.5,462.9 545.5,457.7 549.5,453.1 553.5,453.1 557.5,456.0 561.5,443.1 565.5,434.5 569.5,419.9 573.5,425.9 577.5,425.6 581.5,438.5" fill="none" stroke="#0000cd" stroke-width="1.8" stroke-linejoin="round"/>
<g shape-rendering="crispEdges" fill="#000">
<rect x="0" y="0" width="655" height="1"/>
<rect x="0" y="0" width="1" height="308"/>
<rect x="0" y="307" width="655" height="1"/>
<rect x="0" y="309" width="655" height="1"/>
<rect x="0" y="309" width="1" height="86"/>
<rect x="0" y="394" width="655" height="1"/>
<rect x="0" y="396" width="655" height="1"/>
<rect x="0" y="396" width="1" height="85"/>
<rect x="0" y="480" width="655" height="1"/>
<rect x="654" y="0" width="1" height="481"/>
<rect x="655" y="7" width="2" height="1"/>
<rect x="655" y="40" width="2" height="1"/>
<rect x="655" y="73" width="2" height="1"/>
<rect x="655" y="106" width="2" height="1"/>
<rect x="655" y="139" width="2" height="1"/>
<rect x="655" y="172" width="2" height="1"/>
<rect x="655" y="205" width="2" height="1"/>
<rect x="655" y="238" width="2" height="1"/>
<rect x="655" y="271" width="2" height="1"/>
<rect x="655" y="304" width="2" height="1"/>
<rect x="655" y="349" width="2" height="1"/>
<rect x="655" y="414" width="2" height="1"/>
<rect x="655" y="464" width="2" height="1"/>
<rect x="1" y="481" width="1" height="3"/>
<rect x="65" y="481" width="1" height="3"/>
<rect x="129" y="481" width="1" height="3"/>
<rect x="193" y="481" width="1" height="3"/>
<rect x="257" y="481" width="1" height="3"/>
<rect x="321" y="481" width="1" height="3"/>
<rect x="385" y="481" width="1" height="3"/>
<rect x="449" y="481" width="1" height="3"/>
<rect x="513" y="481" width="1" height="3"/>
<rect x="577" y="481" width="1" height="3"/>
</g>
<text x="660.6" y="10.6" textLength="31.7" lengthAdjust="spacingAndGlyphs" xml:space="preserve">1.28040</text>
<text x="660.6" y="43.6" textLength="31.7" lengthAdjust="spacingAndGlyphs" xml:space="preserve">1.27550</text>
<text x="660.6" y="76.6" textLength="31.7" lengthAdjust="spacingAndGlyphs" xml:space="preserve">1.27060</text>
<text x="660.6" y="109.6" textLength="31.7" lengthAdjust="spacingAndGlyphs" xml:space="preserve">1.26570</text>
<text x="660.6" y="142.6" textLength="31.7" lengthAdjust="spacingAndGlyphs" xml:space="preserve">1.26080</text>
<text x="660.6" y="175.6" textLength="31.7" lengthAdjust="spacingAndGlyphs" xml:space="preserve">1.25600</text>
<text x="660.6" y="208.6" textLength="31.7" lengthAdjust="spacingAndGlyphs" xml:space="preserve">1.25110</text>
<text x="660.6" y="241.6" textLength="31.7" lengthAdjust="spacingAndGlyphs" xml:space="preserve">1.24620</text>
<text x="660.6" y="274.6" textLength="31.7" lengthAdjust="spacingAndGlyphs" xml:space="preserve">1.24130</text>
<text x="660.6" y="307.6" textLength="31.7" lengthAdjust="spacingAndGlyphs" xml:space="preserve">1.23640</text>
<g shape-rendering="crispEdges">
<rect x="656" y="16" width="41" height="11" fill="#ff0000"/>
<rect x="656" y="40" width="41" height="11" fill="#ff0000"/>
<rect x="656" y="67" width="41" height="11" fill="#ff0000"/>
<rect x="656" y="98" width="41" height="11" fill="#ff0000"/>
<rect x="656" y="122" width="41" height="11" fill="#ff0000"/>
<rect x="656" y="139" width="41" height="11" fill="#ff0000"/>
<rect x="656" y="168" width="41" height="11" fill="#ff0000"/>
<rect x="656" y="184" width="41" height="11" fill="#ff0000"/>
<rect x="656" y="203" width="41" height="11" fill="#ff0000"/>
<rect x="656" y="248" width="41" height="11" fill="#ff0000"/>
<rect x="656" y="274" width="41" height="11" fill="#ff0000"/>
<rect x="656" y="287" width="41" height="11" fill="#ff0000"/>
<rect x="656" y="226" width="41" height="11" fill="#000"/>
</g>
<text x="660.6" y="25.1" textLength="31.7" lengthAdjust="spacingAndGlyphs" xml:space="preserve" style="fill:#fff;stroke:#fff">1.27822</text>
<text x="660.6" y="49.1" textLength="31.7" lengthAdjust="spacingAndGlyphs" xml:space="preserve" style="fill:#fff;stroke:#fff">1.27463</text>
<text x="660.6" y="76.1" textLength="31.7" lengthAdjust="spacingAndGlyphs" xml:space="preserve" style="fill:#fff;stroke:#fff">1.27059</text>
<text x="660.6" y="107.1" textLength="31.7" lengthAdjust="spacingAndGlyphs" xml:space="preserve" style="fill:#fff;stroke:#fff">1.26598</text>
<text x="660.6" y="131.1" textLength="31.7" lengthAdjust="spacingAndGlyphs" xml:space="preserve" style="fill:#fff;stroke:#fff">1.26246</text>
<text x="660.6" y="148.1" textLength="31.7" lengthAdjust="spacingAndGlyphs" xml:space="preserve" style="fill:#fff;stroke:#fff">1.26000</text>
<text x="660.6" y="177.1" textLength="31.7" lengthAdjust="spacingAndGlyphs" xml:space="preserve" style="fill:#fff;stroke:#fff">1.25569</text>
<text x="660.6" y="193.1" textLength="31.7" lengthAdjust="spacingAndGlyphs" xml:space="preserve" style="fill:#fff;stroke:#fff">1.25330</text>
<text x="660.6" y="212.1" textLength="31.7" lengthAdjust="spacingAndGlyphs" xml:space="preserve" style="fill:#fff;stroke:#fff">1.25047</text>
<text x="660.6" y="257.1" textLength="31.7" lengthAdjust="spacingAndGlyphs" xml:space="preserve" style="fill:#fff;stroke:#fff">1.24380</text>
<text x="660.6" y="283.1" textLength="31.7" lengthAdjust="spacingAndGlyphs" xml:space="preserve" style="fill:#fff;stroke:#fff">1.24000</text>
<text x="660.6" y="296.1" textLength="31.7" lengthAdjust="spacingAndGlyphs" xml:space="preserve" style="fill:#fff;stroke:#fff">1.23805</text>
<text x="660.6" y="235.1" textLength="31.7" lengthAdjust="spacingAndGlyphs" xml:space="preserve" style="fill:#fff;stroke:#fff">1.24728</text>
<text x="658.4" y="319.5" textLength="37.2" lengthAdjust="spacingAndGlyphs" xml:space="preserve">0.007201</text>
<text x="658.4" y="352.9" textLength="17.6" lengthAdjust="spacingAndGlyphs" xml:space="preserve">0.00</text>
<text x="658.4" y="391.0" textLength="30.2" lengthAdjust="spacingAndGlyphs" xml:space="preserve">-0.0084</text>
<text x="658.6" y="407.2" textLength="14.4" lengthAdjust="spacingAndGlyphs" xml:space="preserve">100</text>
<text x="657.4" y="418.2" textLength="9.6" lengthAdjust="spacingAndGlyphs" xml:space="preserve">80</text>
<text x="657.4" y="468.2" textLength="9.6" lengthAdjust="spacingAndGlyphs" xml:space="preserve">20</text>
<text x="658.6" y="478.0" textLength="4.4" lengthAdjust="spacingAndGlyphs" xml:space="preserve">0</text>
<polygon points="4,7 11,7 7.5,11" fill="#000"/>
<text x="16.2" y="11.8" textLength="200.7" lengthAdjust="spacingAndGlyphs" xml:space="preserve">GBPUSD,H4  1.24826 1.24855 1.24706 1.24728</text>
<text x="5.6" y="322.0" textLength="142.3" lengthAdjust="spacingAndGlyphs" xml:space="preserve">MACD(5,34,4) 0.000243 0.000215</text>
<text x="5.6" y="409.3" textLength="121.2" lengthAdjust="spacingAndGlyphs" xml:space="preserve">Stoch(5,3,3) 50.5126 60.5498</text>
<text x="0.5" y="494.5" textLength="50.1" lengthAdjust="spacingAndGlyphs" xml:space="preserve">21 Jun 2019</text>
<text x="64.5" y="494.5" textLength="52.7" lengthAdjust="spacingAndGlyphs" xml:space="preserve">25 Jun 16:00</text>
<text x="128.5" y="494.5" textLength="52.7" lengthAdjust="spacingAndGlyphs" xml:space="preserve">28 Jun 08:00</text>
<text x="192.5" y="494.5" textLength="44.8" lengthAdjust="spacingAndGlyphs" xml:space="preserve">3 Jul 00:00</text>
<text x="256.5" y="494.5" textLength="44.8" lengthAdjust="spacingAndGlyphs" xml:space="preserve">5 Jul 16:00</text>
<text x="320.5" y="494.5" textLength="49.9" lengthAdjust="spacingAndGlyphs" xml:space="preserve">10 Jul 08:00</text>
<text x="384.5" y="494.5" textLength="49.9" lengthAdjust="spacingAndGlyphs" xml:space="preserve">15 Jul 00:00</text>
<text x="448.5" y="494.5" textLength="49.9" lengthAdjust="spacingAndGlyphs" xml:space="preserve">17 Jul 16:00</text>
<text x="512.5" y="494.5" textLength="49.9" lengthAdjust="spacingAndGlyphs" xml:space="preserve">22 Jul 08:00</text>
<text x="576.5" y="494.5" textLength="49.9" lengthAdjust="spacingAndGlyphs" xml:space="preserve">25 Jul 00:00</text>
<polygon points="583,1 592,1 587.5,6" fill="#c0c0c0"/>
<polygon points="1,475 1,481 7,481" fill="#c0c0c0"/>
<g fill="none" stroke="#2e7d46" stroke-width="3.8" stroke-linecap="round" stroke-linejoin="round">
<polyline points="640.8,206.8 621.3,206.8 630,185.5"/>
<polyline points="619.7,188.4 630.8,184.2 634,194" stroke-linecap="butt" stroke-linejoin="miter"/>
<polyline points="623,181.3 633.3,176.4 637,186.5" stroke-linecap="butt" stroke-linejoin="miter"/>
</g>
<g fill="none" stroke="#a0432a" stroke-width="3.8" stroke-linecap="round" stroke-linejoin="round">
<polyline points="641.2,257 621.8,257 630,278"/>
<polyline points="620.5,275 631,279.5 635,270" stroke-linecap="butt" stroke-linejoin="miter"/>
<polyline points="623.5,283 633.5,287.5 638,277" stroke-linecap="butt" stroke-linejoin="miter"/>
</g>
</svg></body></html>
